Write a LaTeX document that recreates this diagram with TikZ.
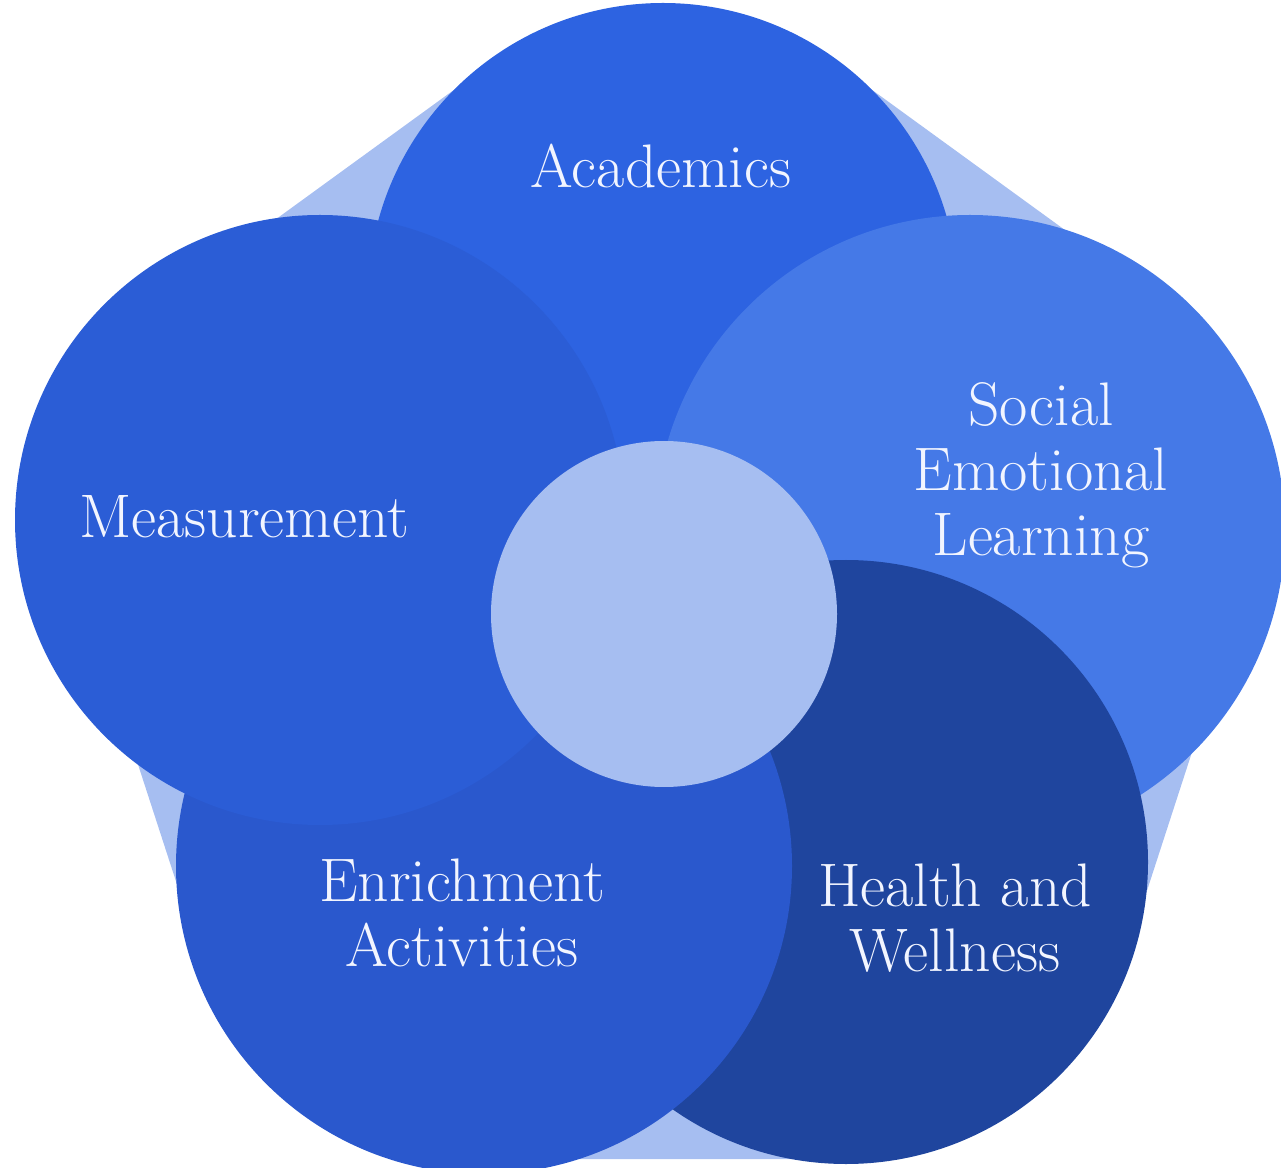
\documentclass[tikz,border=0pt]{standalone}
\usepackage{fontspec}
\usepackage{tikz}
\usetikzlibrary{positioning}
\definecolor{paleblue}{HTML}{A6BEF1}
\definecolor{acadblue}{HTML}{2D63E1}
\definecolor{measblue}{HTML}{2B5DD6}
\definecolor{selblue}{HTML}{4579E7}
\definecolor{healthblue}{HTML}{1F459E}
\definecolor{enrichblue}{HTML}{2A58CD}
\definecolor{labelwhite}{HTML}{F2F5FF}
\tikzset{
  lbl/.style={text=labelwhite, align=center, inner sep=0pt,
    font=\fontsize{35}{37}\selectfont\addfontfeatures{LetterSpace=2}},
}

\begin{document}
\begin{tikzpicture}[x=0.02cm, y=-0.02cm]
\useasboundingbox (0,0) rectangle (1281,1168);

% pale pentagon behind the circles
\fill[paleblue, rounded corners=4.4cm, shift={(663,613)}]
  (270:675) -- (342:675) -- (54:675) -- (126:675) -- (198:675) -- cycle;

% the five circles, back to front
\fill[acadblue] (663,298) circle (295);
\fill[selblue] (970,530) circle (315);
\fill[healthblue] (846,862) circle (302);
\fill[enrichblue] (484,866) circle (308);
\fill[measblue] (320,520) circle (305);

% hub
\fill[paleblue] (664,614) circle (173);

\draw(661,166) node[lbl] (acad) {Academics};
\draw(244,517) node[lbl] (meas) {Measurement};
\draw(1041,475) node[lbl] (sel) {Social\\Emotional\\Learning};
\draw(462,913) node[lbl] (enrich) {Enrichment\\Activities};
\draw(955,918) node[lbl] (health) {Health and\\Wellness};

\end{tikzpicture}
\end{document}
